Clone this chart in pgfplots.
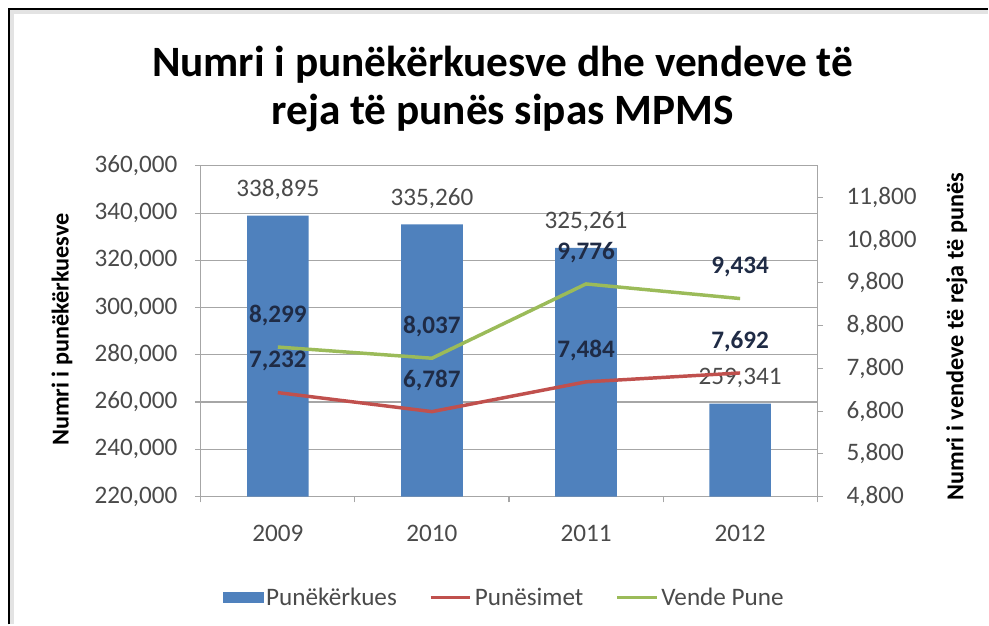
\documentclass[border=0pt]{standalone}
\usepackage{pgfplots}
\pgfplotsset{compat=1.18}
\usepackage{fontspec}
\setmainfont{Carlito}
\definecolor{barblue}{HTML}{4F81BD}
\definecolor{lred}{HTML}{C0504D}
\definecolor{lgreen}{HTML}{9BBB59}
\definecolor{gridgray}{HTML}{A6A6A6}
\definecolor{labnavy}{HTML}{1F2B45}
\definecolor{txt}{HTML}{4A4A4A}
\newcommand{\fs}[1]{\fontsize{#1}{#1}\selectfont}
\pgfplotsset{
  common/.style={
    at={(150.75pt,96pt)}, anchor=south west, scale only axis,
    width=462.75pt, height=248.25pt,
    xmin=-0.5, xmax=3.5,
    scaled y ticks=false,
    /pgf/number format/assume math mode=true,
    axis line style={gridgray, line width=0.8pt},
    tick style={gridgray, line width=0.8pt},
    major tick length=4.5pt, tick align=outside,
    yticklabel style={font=\fs{18.9}, text=txt, /pgf/number format/fixed, /pgf/number format/1000 sep={,}},
  }
}
\begin{document}
\begin{tikzpicture}[x=0.75pt,y=0.75pt]
\path (0,0) rectangle (989,625);
\fill[gray!22] (9,0) rectangle (14,616);
\fill[gray!22] (9,611) rectangle (989,616);
\draw[black,line width=1.5pt] (9,0) -- (9,616) -- (989,616);
\node[font=\bfseries\fs{32.5}] at (503,560) {Numri i punëkërkuesve dhe vendeve të};
\node[font=\bfseries\fs{32.5}] at (503,512) {reja të punës sipas MPMS};
\node[rotate=90, font=\bfseries\fs{18.2}] at (62,295) {Numri i punëkërkuesve};
\node[rotate=90, font=\bfseries\fs{18.2}] at (958,288) {Numri i vendeve të reja të punës};

\begin{axis}[common,
  ymin=220000, ymax=360000, ytick={220000,240000,...,360000},
  yticklabel style={xshift=-9.5pt},
  ymajorgrids, major grid style={gridgray, line width=0.8pt},
  ytick pos=left, xtick pos=bottom,
  xtick={-0.5,0.5,1.5,2.5,3.5}, xticklabels={},
  extra x ticks={0,1,2,3}, extra x tick labels={2009,2010,2011,2012},
  extra x tick style={major tick length=0pt, xticklabel style={font=\fs{18.9}, text=txt, yshift=-18pt}},
]
\addplot[ybar, bar width=0.4, fill=barblue, draw=none,
  nodes near coords,
  nodes near coords style={font=\fs{18.9}, text=txt, anchor=center, yshift=19.5pt,
    /pgf/number format/fixed, /pgf/number format/precision=0, /pgf/number format/1000 sep={,}},
] coordinates {(0,338895) (1,335260) (2,325261) (3,259341)};
\end{axis}

\begin{axis}[common,
  ymin=4800, ymax=12541, ytick={4800,5800,...,11800},
  yticklabel style={xshift=14pt},
  axis y line*=right, hide x axis,
  legend style={at={(0.493,-0.305)}, anchor=center, draw=none, fill=none,
    font=\fs{18.9}, text=txt, inner sep=0pt,
    /tikz/every even column/.append style={column sep=22pt}},
  legend columns=3,
  legend cell align=left,
]
\addlegendimage{legend image code/.code={\fill[barblue] (0pt,-3.75pt) rectangle (30pt,3.75pt);}}
\addlegendentry{Punëkërkues}
\addplot[lred, line width=2.6pt, mark=none,
  legend image code/.code={\draw[lred, line width=2.6pt] (0pt,0pt) -- (30pt,0pt);},
  nodes near coords,
  nodes near coords style={font=\bfseries\fs{18.9}, text=labnavy, anchor=center, yshift=23.5pt,
    /pgf/number format/fixed, /pgf/number format/precision=0, /pgf/number format/1000 sep={,}},
] coordinates {(0,7232) (1,6787) (2,7484) (3,7692)};
\addlegendentry{Punësimet}
\addplot[lgreen, line width=2.6pt, mark=none,
  legend image code/.code={\draw[lgreen, line width=2.6pt] (0pt,0pt) -- (30pt,0pt);},
  nodes near coords,
  nodes near coords style={font=\bfseries\fs{18.9}, text=labnavy, anchor=center, yshift=23.5pt,
    /pgf/number format/fixed, /pgf/number format/precision=0, /pgf/number format/1000 sep={,}},
] coordinates {(0,8299) (1,8037) (2,9776) (3,9434)};
\addlegendentry{Vende Pune}
\end{axis}
\end{tikzpicture}
\end{document}
